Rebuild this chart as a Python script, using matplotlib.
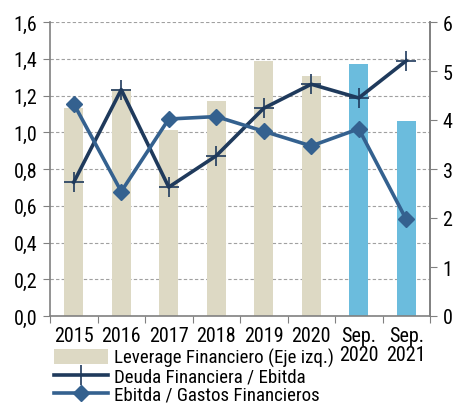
import matplotlib
matplotlib.use("Agg")
import matplotlib.pyplot as plt
import numpy as np
from matplotlib.lines import Line2D
from matplotlib.patches import Patch
from matplotlib import font_manager as fm

names = {f.name for f in fm.fontManager.ttflist}
prefs = ["Liberation Sans Narrow", "Arial Narrow", "Roboto Condensed", "PT Sans Narrow",
         "Archivo Narrow", "Liberation Sans"]
chosen = next(n for n in prefs if n in names)
plt.rcParams['font.family'] = [chosen, "DejaVu Sans"]

categories = ["2015", "2016", "2017", "2018", "2019", "2020", "Sep.\n2020", "Sep.\n2021"]
leverage = [1.13, 1.235, 1.01, 1.17, 1.39, 1.305, 1.37, 1.06]
deuda_ebitda = [2.73, 4.62, 2.63, 3.27, 4.24, 4.73, 4.45, 5.21]
ebitda_gastos = [4.33, 2.54, 4.02, 4.07, 3.77, 3.47, 3.82, 1.97]
bar_colors = ["#DDD9C4"] * 6 + ["#6BBCDD"] * 2

FS = 14.5
LFS = 13.6
W, H = 458, 406
fig = plt.figure(figsize=(W/100, H/100), dpi=100)
L, R, T, B = 50, 430, 23, 317
ax = fig.add_axes([L/W, 1-B/H, (R-L)/W, (B-T)/H])
x = np.arange(len(categories))
ax.bar(x, leverage, width=0.4, color=bar_colors, zorder=2)
ax.set_xlim(-0.5, len(categories)-0.5)
ax.set_ylim(0, 1.6)
ax.set_yticks(np.arange(0, 1.61, 0.2))
ax.set_yticklabels([f"{v:.1f}".replace(".", ",") for v in np.arange(0, 1.61, 0.2)])
ax.set_axisbelow(True)
ax.yaxis.grid(True, linestyle=(0, (3, 2)), color="#A0A0A0", linewidth=0.8)
ax.set_xticks(np.arange(-0.5, len(categories), 1.0))
ax.set_xticklabels([])
ax.set_xticks(x, minor=True)
ax.set_xticklabels(categories, minor=True, fontsize=FS, linespacing=1.0)
ax.tick_params(axis='x', which='minor', length=0, pad=7)
ax.tick_params(axis='x', which='major', length=5, direction='out', color="#808080")
ax.tick_params(axis='y', length=5, direction='out', color="#808080", labelsize=FS, pad=4)
ax.spines['top'].set_visible(False)
for s in ['left', 'right', 'bottom']:
    ax.spines[s].set_color("#808080")
    ax.spines[s].set_linewidth(1.2)

ax2 = ax.twinx()
ax2.set_ylim(0, 6)
ax2.set_yticks(range(0, 7))
ax2.tick_params(axis='y', length=5, direction='out', color="#808080", labelsize=FS, pad=4)
for s in ['top', 'left', 'bottom']:
    ax2.spines[s].set_visible(False)
ax2.spines['right'].set_color("#808080")
ax2.spines['right'].set_linewidth(1.2)

navy = "#1F3A5C"
steel = "#34618F"
ax2.plot(x, deuda_ebitda, color=navy, linewidth=2.6, marker='+', markersize=14,
         markeredgewidth=1.2, zorder=3)
ax2.plot(x, ebitda_gastos, color=steel, linewidth=2.6, marker='D', markersize=8,
         zorder=4)

handles = [Patch(facecolor="#DDD9C4", edgecolor="none"),
           Line2D([], [], color=navy, linewidth=2.6, marker='+', markersize=14, markeredgewidth=1.2),
           Line2D([], [], color=steel, linewidth=2.6, marker='D', markersize=8)]
labels = ["Leverage Financiero (Eje izq.)", "Deuda Financiera / Ebitda", "Ebitda / Gastos Financieros"]
fig.legend(handles, labels, loc='upper left', bbox_to_anchor=(54/W, 1-349/H),
           frameon=False, fontsize=LFS, handlelength=2.85, handletextpad=0.3,
           labelspacing=0.02, borderpad=0, borderaxespad=0, handleheight=0.8)

fig.savefig("out.png", dpi=100)
